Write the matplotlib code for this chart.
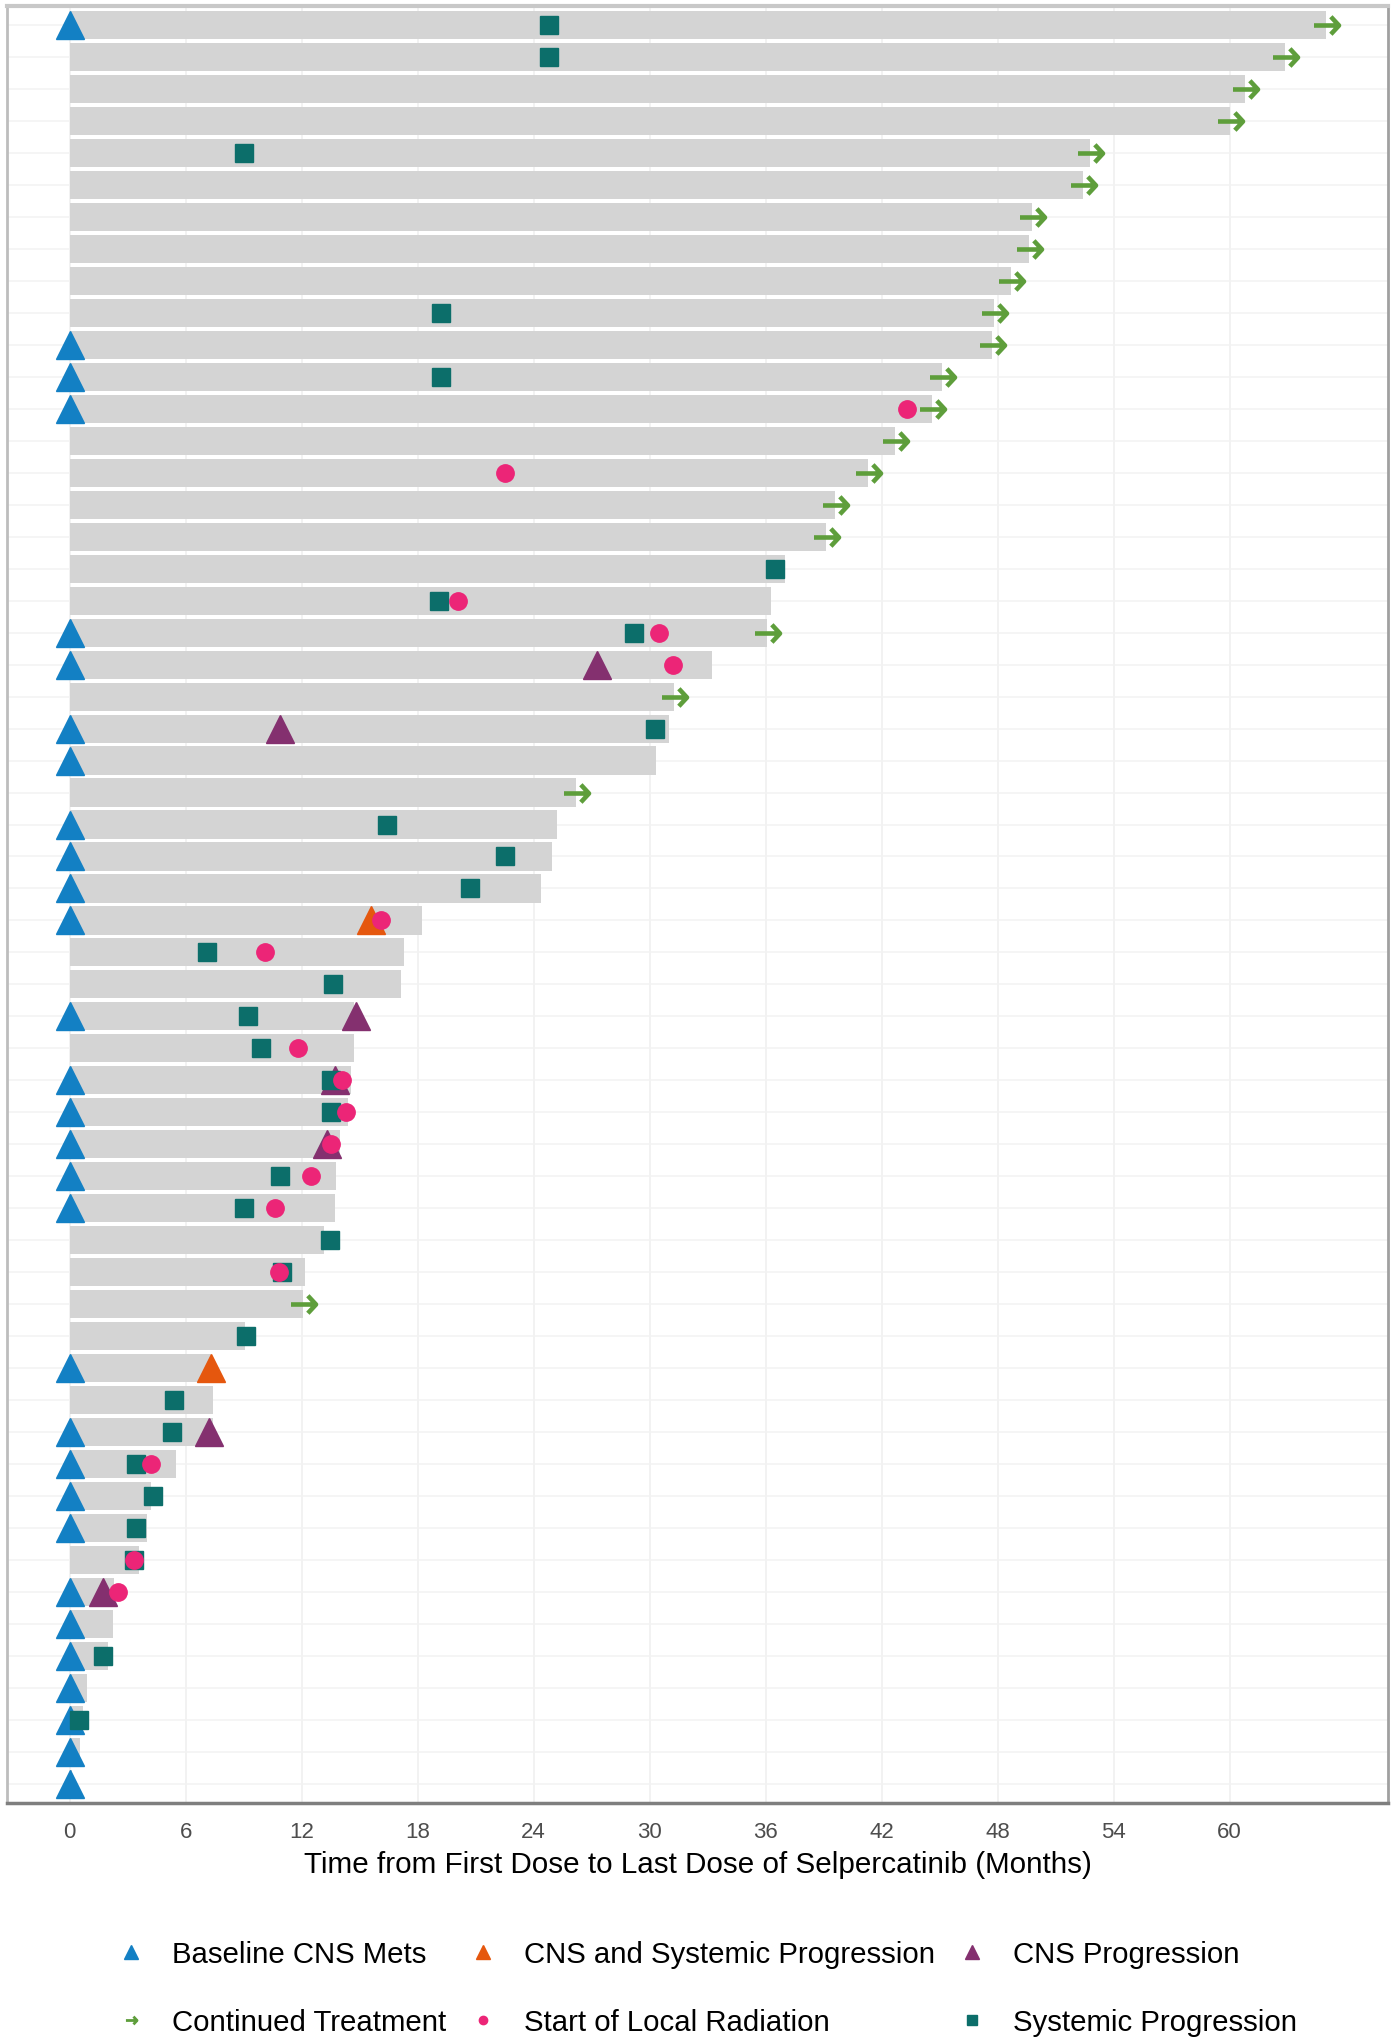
"""
Swimmer plot: time on selpercatinib per patient with CNS / systemic events.
"""
import matplotlib
matplotlib.use("Agg")
import matplotlib.pyplot as plt
from matplotlib.lines import Line2D
from matplotlib.path import Path

# --- data (rows counted from the top, months on treatment) ---
bar_end = [65.0, 62.85, 60.8, 60.0, 52.8, 52.4, 49.8, 49.65, 48.7, 47.8,
           47.7, 45.15, 44.6, 42.7, 41.3, 39.6, 39.1, 37.0, 36.3, 36.05,
           33.2, 31.25, 31.0, 30.35, 26.2, 25.2, 24.95, 24.4, 18.2, 17.3,
           17.15, 14.7, 14.7, 14.55, 14.4, 14.0, 13.75, 13.7, 13.15, 12.15,
           12.05, 9.05, 7.3, 7.4, 7.4, 5.5, 4.2, 4.0, 3.6, 2.3,
           2.25, 2.0, 0.9, 0.7, 0.55, 0.1]

baseline_rows = [1, 11, 12, 13, 20, 21, 23, 24, 26, 27, 28, 29, 32, 34, 35,
                 36, 37, 38, 43, 45, 46, 47, 48, 50, 51, 52, 53, 54, 55, 56]
baseline_months = [0, 0, 0, 0, 0, 0, 0, 0, 0, 0, 0, 0, 0, 0, 0,
                   0, 0, 0, 0, 0, 0, 0, 0, 0, 0, 0, 0, 0, 0, 0]

cns_sys_rows = [29, 43]
cns_sys_months = [15.6, 7.3]

cns_rows = [21, 23, 32, 34, 36, 45, 50]
cns_months = [27.3, 10.9, 14.8, 13.7, 13.3, 7.2, 1.7]

continued_rows = [1, 2, 3, 4, 5, 6, 7, 8, 9, 10, 11, 12, 13, 14, 15, 16, 17,
                  20, 22, 25, 41]
continued_months = [65.0, 62.85, 60.8, 60.0, 52.8, 52.4, 49.8, 49.65, 48.7,
                    47.8, 47.7, 45.15, 44.6, 42.7, 41.3, 39.6, 39.1, 36.05,
                    31.25, 26.2, 12.05]

radiation_rows = [13, 15, 19, 20, 21, 29, 30, 33, 34, 35, 36, 37, 38, 40,
                  46, 49, 50]
radiation_months = [43.3, 22.5, 20.1, 30.5, 31.2, 16.1, 10.1, 11.8, 14.1,
                    14.3, 13.5, 12.5, 10.6, 10.8, 4.2, 3.3, 2.5]

systemic_rows = [1, 2, 5, 10, 12, 18, 19, 20, 23, 26, 27, 28, 30, 31, 32, 33,
                 34, 35, 37, 38, 39, 40, 42, 44, 45, 46, 47, 48, 49, 52, 54]
systemic_months = [24.8, 24.8, 9.0, 19.2, 19.2, 36.5, 19.1, 29.2, 30.3, 16.4,
                   22.5, 20.7, 7.1, 13.6, 9.2, 9.9, 13.5, 13.5, 10.9, 9.0,
                   13.45, 11.0, 9.1, 5.4, 5.3, 3.4, 4.3, 3.4, 3.3, 1.7, 0.5]

x_ticks = [0, 6, 12, 18, 24, 30, 36, 42, 48, 54, 60]

# colours
bar_color = "#D4D4D4"
blue = "#1380C4"
orange = "#E5570E"
purple = "#84306F"
green = "#5E9E3B"
pink = "#EC2577"
teal = "#0C6E6A"

plt.rcParams["font.family"] = ["Liberation Sans", "DejaVu Sans"]

# right-pointing arrow marker (shaft + open head)
arrow = Path([(-1, 0), (1, 0), (0.35, 0.7), (1, 0), (0.35, -0.7)],
             [Path.MOVETO, Path.LINETO, Path.MOVETO, Path.LINETO, Path.LINETO])

fig = plt.figure(figsize=(13.95, 20.4), dpi=100)
ax = fig.add_axes([0.005, 0.1157, 0.99, 0.8809])

rows = list(range(1, len(bar_end) + 1))
ax.barh(rows, bar_end, height=0.88, color=bar_color, zorder=2)

ax.plot(baseline_months, baseline_rows, ls="none", marker="^", ms=19.5,
        color=blue, zorder=3)
ax.plot(cns_sys_months, cns_sys_rows, ls="none", marker="^", ms=19.5,
        color=orange, zorder=3)
ax.plot(cns_months, cns_rows, ls="none", marker="^", ms=19.5,
        color=purple, zorder=3)
ax.plot(systemic_months, systemic_rows, ls="none", marker="s", ms=13,
        color=teal, zorder=4)
ax.plot(radiation_months, radiation_rows, ls="none", marker="o", ms=12.5,
        color=pink, zorder=5)
ax.plot(continued_months, continued_rows, ls="none", marker=arrow, ms=18,
        mfc="none", mec=green, mew=3.3, zorder=6)

ax.set_xlim(-3.25, 68.2)
ax.set_ylim(len(bar_end) + 0.6, 0.4)
ax.set_xticks(x_ticks)
ax.set_yticks(rows)
ax.set_yticklabels([])
ax.tick_params(axis="both", length=0)
ax.tick_params(axis="x", labelsize=16, labelcolor="#4D4D4D", pad=13)
ax.grid(axis="x", color="#F0F0F0", lw=1.2, zorder=0)
ax.grid(axis="y", color="#F3F3F3", lw=1.2, zorder=0)
ax.set_axisbelow(True)

ax.spines["left"].set_color("#BDBDBD")
ax.spines["left"].set_linewidth(2)
ax.spines["top"].set_color("#C8C8C8")
ax.spines["top"].set_linewidth(3)
ax.spines["right"].set_color("#A0A0A0")
ax.spines["right"].set_linewidth(2)
ax.spines["bottom"].set_color("#7F7F7F")
ax.spines["bottom"].set_linewidth(2.5)

ax.set_xlabel("Time from First Dose to Last Dose of Selpercatinib (Months)",
              fontsize=21.3, labelpad=6)

# legend: 3 columns, filled row-wise like the original
handles = [
    Line2D([], [], ls="none", marker="^", ms=10, color=blue),
    Line2D([], [], ls="none", marker=arrow, ms=8, mfc="none", mec=green, mew=2),
    Line2D([], [], ls="none", marker="^", ms=10, color=orange),
    Line2D([], [], ls="none", marker="o", ms=6, color=pink),
    Line2D([], [], ls="none", marker="^", ms=10, color=purple),
    Line2D([], [], ls="none", marker="s", ms=7, color=teal),
]
labels = ["Baseline CNS Mets", "Continued Treatment",
          "CNS and Systemic Progression", "Start of Local Radiation",
          "CNS Progression", "Systemic Progression"]
fig.legend(handles, labels, ncol=3, loc="upper left",
           bbox_to_anchor=(0.0832, 0.0485), frameon=False, fontsize=21.2,
           handlelength=1.0, handletextpad=0.91, columnspacing=0.73,
           labelspacing=1.35, borderpad=0, borderaxespad=0)

fig.savefig("out.png", dpi=100)
